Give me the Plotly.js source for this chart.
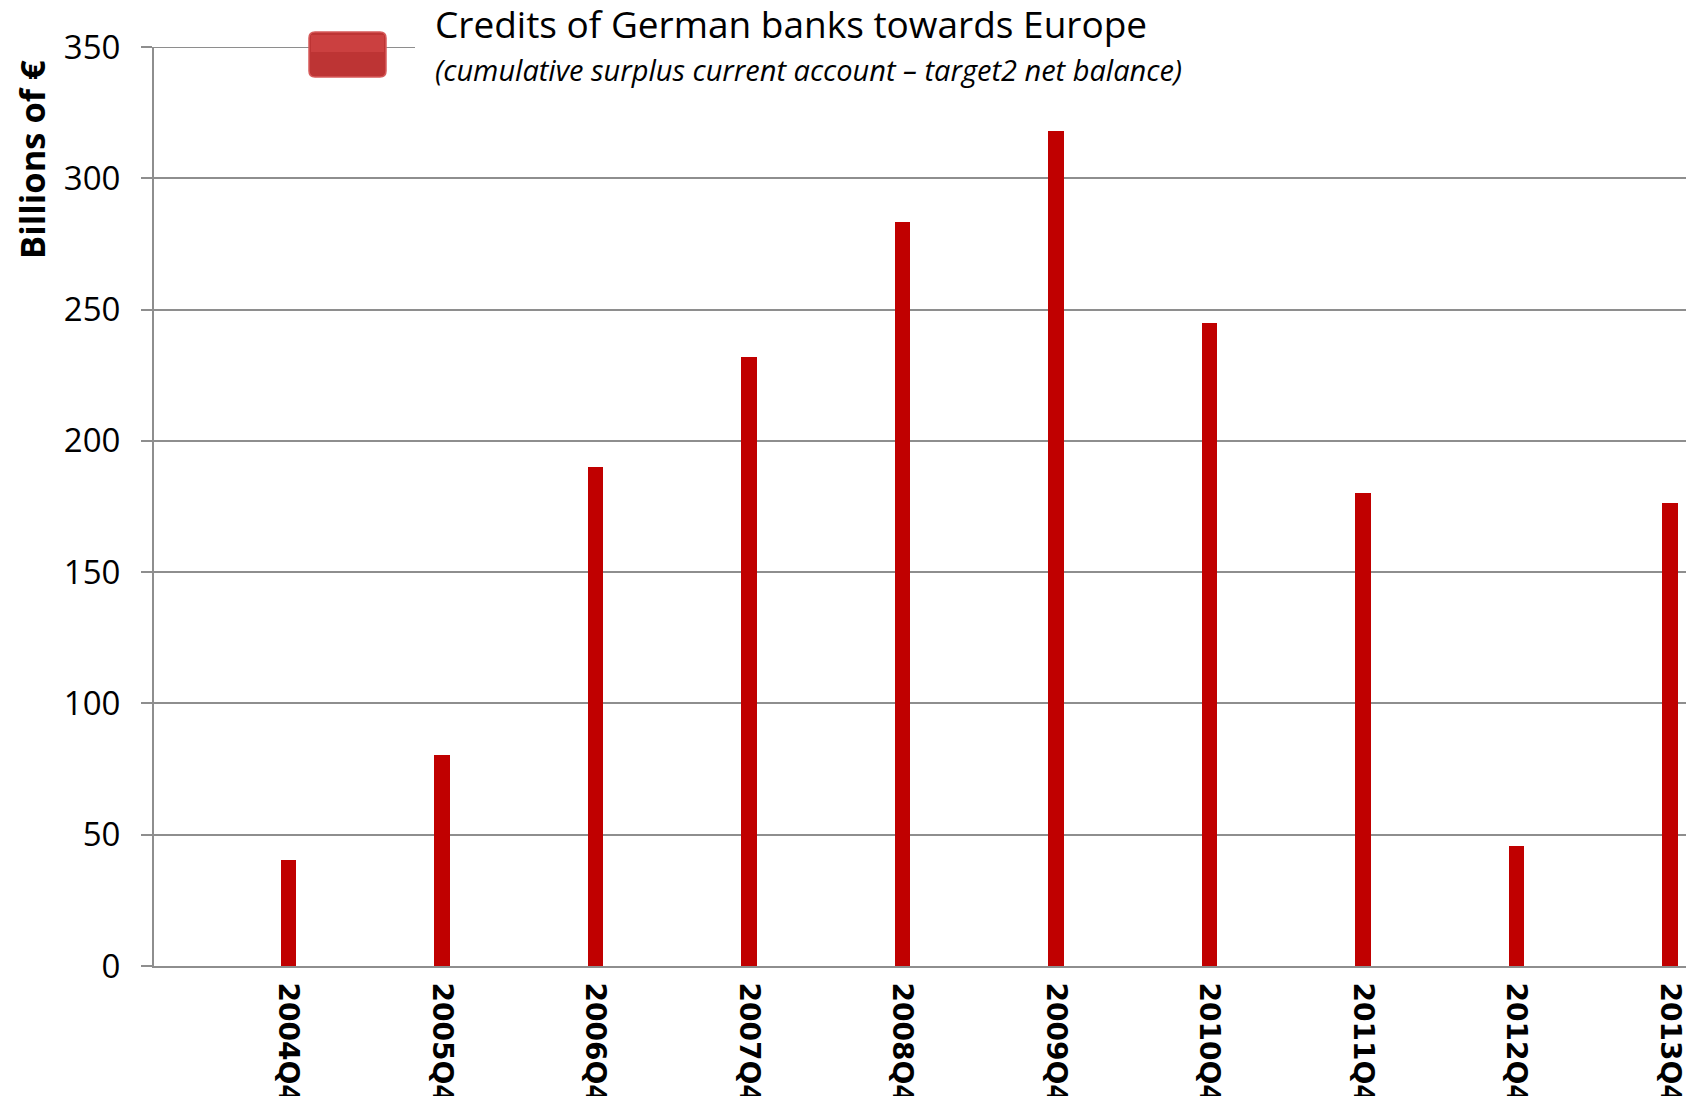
<!DOCTYPE html>
<html>
<head>
<meta charset="utf-8">
<script src="https://cdn.plot.ly/plotly-3.0.1.min.js"></script>
<style>html,body{margin:0;padding:0;background:#fff;}#chart{width:1686px;height:1096px;}</style>
</head>
<body>
<div id="chart"></div>
<script>
// ---- data ----
const years = [2004, 2005, 2006, 2007, 2008, 2009, 2010, 2011, 2012, 2013];
const quarterNames = ['Q1', 'Q2', 'Q3', 'Q4'];
const categories = ['2004Q4', '2005Q4', '2006Q4', '2007Q4', '2008Q4', '2009Q4', '2010Q4', '2011Q4', '2012Q4', '2013Q4'];
const values = [40.5, 80.5, 190, 232, 283.5, 318, 245, 180, 45.7, 176.2];
const yTicks = [0, 50, 100, 150, 200, 250, 300, 350];
const seriesTitle = 'Credits of German banks towards Europe';
const seriesSubtitle = '(cumulative surplus current account \u2013 target2 net balance)';
const yTitle = 'Billions of \u20ac';

// all quarters for the category axis
const allQuarters = [];
years.forEach(y => quarterNames.forEach(q => allQuarters.push(y + q)));

const W = 1686, H = 1096;
const mL = 154, mR = 0, mT = 47, mB = 130;
const plotW = W - mL - mR, plotH = H - mT - mB;
const px2paperX = px => (px - mL) / plotW;
const px2paperY = py => (H - mB - py) / plotH;

const gridColor = '#8e8e8e';

const trace = {
  type: 'bar',
  x: categories,
  y: values,
  width: 0.4,
  marker: {color: '#c00000', line: {width: 0}},
  showlegend: false,
  hoverinfo: 'x+y'
};

const layout = {
  width: W, height: H,
  margin: {l: mL, r: mR, t: mT, b: mB, pad: 0},
  paper_bgcolor: '#ffffff',
  plot_bgcolor: '#ffffff',
  showlegend: false,
  bargap: 0,
  xaxis: {
    type: 'category',
    categoryorder: 'array',
    categoryarray: allQuarters,
    range: [-0.5, 39.42],
    tickmode: 'array',
    tickvals: categories,
    ticktext: categories,
    tickangle: 90,
    ticks: '',
    ticklabelstandoff: 9,
    tickfont: {family: 'DejaVu Sans', size: 28, color: '#000', weight: 'bold'},
    showgrid: false,
    zeroline: false,
    showline: true,
    linecolor: gridColor,
    linewidth: 2,
    fixedrange: true
  },
  yaxis: {
    range: [0, 350],
    tickmode: 'array',
    tickvals: yTicks,
    ticks: 'outside',
    ticklen: 11,
    tickwidth: 2,
    tickcolor: gridColor,
    ticklabelstandoff: 14,
    tickfont: {family: 'Open Sans', size: 33, color: '#000'},
    showgrid: true,
    gridcolor: gridColor,
    gridwidth: 2,
    zeroline: false,
    showline: true,
    linecolor: gridColor,
    linewidth: 2,
    fixedrange: true
  },
  shapes: [
    // top gridline (350) up to the legend box
    {type: 'line', xref: 'paper', yref: 'y',
     x0: 0, x1: px2paperX(415), y0: 350, y1: 350,
     line: {color: gridColor, width: 2}, layer: 'above'},
    // legend symbol
    {type: 'path', xref: 'paper', yref: 'paper',
     path: (function(){
       const x0 = px2paperX(309), x1 = px2paperX(386);
       const y0 = px2paperY(77), y1 = px2paperY(32);
       const rx = 6 / plotW, ry = 6 / plotH;
       return 'M ' + (x0+rx) + ' ' + y0 + ' L ' + (x1-rx) + ' ' + y0 +
         ' Q ' + x1 + ' ' + y0 + ' ' + x1 + ' ' + (y0+ry) +
         ' L ' + x1 + ' ' + (y1-ry) + ' Q ' + x1 + ' ' + y1 + ' ' + (x1-rx) + ' ' + y1 +
         ' L ' + (x0+rx) + ' ' + y1 + ' Q ' + x0 + ' ' + y1 + ' ' + x0 + ' ' + (y1-ry) +
         ' L ' + x0 + ' ' + (y0+ry) + ' Q ' + x0 + ' ' + y0 + ' ' + (x0+rx) + ' ' + y0 + ' Z';
     })(),
     fillcolor: '#bd3434', line: {color: '#d65a5a', width: 1.5}, layer: 'above'},
    // lighter upper half of the symbol for a gradient look
    {type: 'rect', xref: 'paper', yref: 'paper',
     x0: px2paperX(311), x1: px2paperX(384), y0: px2paperY(52), y1: px2paperY(35),
     fillcolor: 'rgba(230,90,90,0.35)', line: {width: 0}, layer: 'above'}
  ],
  annotations: [
    {xref: 'paper', yref: 'paper', x: px2paperX(433), y: px2paperY(24),
     xanchor: 'left', yanchor: 'middle', showarrow: false,
     text: seriesTitle,
     font: {family: 'Open Sans', size: 37, color: '#000'}},
    {xref: 'paper', yref: 'paper', x: px2paperX(433), y: px2paperY(70),
     xanchor: 'left', yanchor: 'middle', showarrow: false,
     text: '<i>' + seriesSubtitle + '</i>',
     font: {family: 'Open Sans', size: 29, color: '#000'}},
    {xref: 'paper', yref: 'paper', x: px2paperX(31), y: px2paperY(160),
     xanchor: 'center', yanchor: 'middle', showarrow: false, textangle: -90,
     text: '<b>' + yTitle + '</b>',
     font: {family: 'Open Sans', size: 34.5, color: '#000'}}
  ]
};

Plotly.newPlot('chart', [trace], layout, {displayModeBar: false, staticPlot: true});
</script>
</body>
</html>
